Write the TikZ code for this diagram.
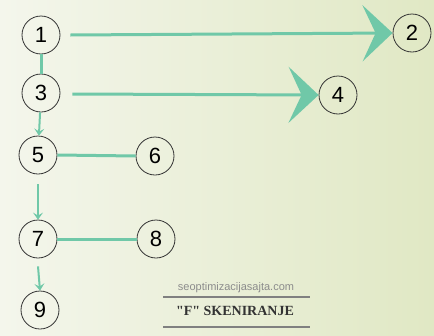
\documentclass[tikz,border=0pt]{standalone}
\usepackage{fontspec}
\setmainfont{Liberation Sans}
\newfontfamily\serifbold{Liberation Serif}
\usetikzlibrary{arrows.meta}
\definecolor{teal1}{RGB}{112,200,168}
\definecolor{bgleft}{RGB}{244,246,236}
\definecolor{bgright}{RGB}{224,232,196}

\begin{document}
\begin{tikzpicture}[x=1pt,y=-1pt,
    step node/.style={circle,draw=black!80,line width=0.8pt,minimum size=38pt,inner sep=0pt,font=\fontsize{22}{22}\selectfont},
    big arrow/.style={teal1,line width=3pt,-{Stealth[length=30pt,width=56pt,inset=13pt]}},
    small arrow/.style={teal1,line width=2pt,-{Stealth[length=7pt,width=10pt,inset=3pt]}},
    link/.style={teal1,line width=3pt}]
    \shade[left color=bgleft,right color=bgright] (0,0) rectangle (434,335);
    \useasboundingbox (0,0) rectangle (434,335);

    \node[step node] (n1) at (41,35) {1};
    \node[step node] (n2) at (412,33) {2};
    \node[step node] (n3) at (41,93) {3};
    \node[step node] (n4) at (338,95) {4};
    \node[step node] (n5) at (38,155) {5};
    \node[step node] (n6) at (155,156) {6};
    \node[step node] (n7) at (38,239) {7};
    \node[step node] (n8) at (156,239) {8};
    \node[step node] (n9) at (40,310) {9};

    \draw[big arrow] (n1.east) ++(10,0) coordinate (s1) -- (n2.west);
    \draw[big arrow] (n3.east) ++(12,1) coordinate (s3) -- (n4.west);
    \draw[link] (n1) -- (n3);
    \draw[small arrow] (n3) -- (n5);
    \draw[small arrow] (n5.south) ++(0,10) coordinate (s5) -- (n7.north);
    \draw[small arrow] (n7.south) ++(0,8) coordinate (s7) -- (n9.north);
    \draw[link] (n6.west) -- (n5.east);
    \draw[link] (n8.west) -- (n7.east);

    \node[text=black!45,font=\fontsize{11}{11}\selectfont] (site) at (236,288) {seoptimizacijasajta.com};
    \node[font=\serifbold\bfseries\fontsize{14}{14}\selectfont,text=black!80] (title) at (235,311) {"F" SKENIRANJE};
    \draw[black!50,line width=1.5pt] (163,297) -- (310,297);
    \draw[black!50,line width=1.5pt] (163,327) -- (310,327);
\end{tikzpicture}
\end{document}
